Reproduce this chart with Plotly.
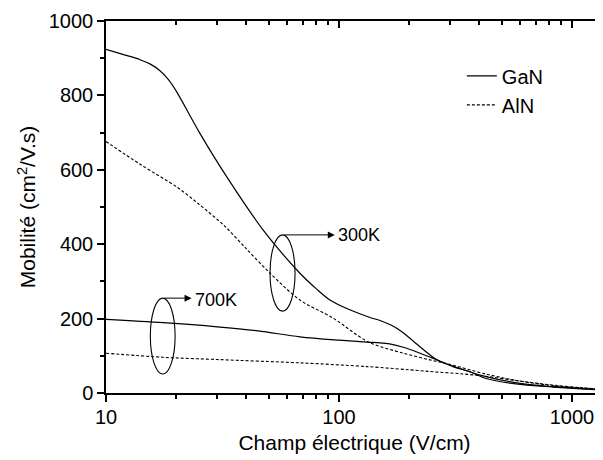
import math
import plotly.graph_objects as go

# ---- data ----
E_gan300 = [10, 12, 14, 15.5, 17, 18.5, 20, 25.3, 33, 47.3, 68, 80, 91.4, 110, 136, 150, 168, 185, 208, 262, 290, 330, 427, 600, 832, 1100, 1360]
mu_gan300 = [924, 909, 896, 884, 867, 843, 812, 698, 581, 438, 322, 280, 250, 225, 203, 195, 182, 166, 140, 90, 78, 66, 44, 26, 17, 12, 9]

E_aln300 = [10, 14, 20.2, 25, 32.4, 40, 50.6, 68, 94, 134, 189, 246, 299, 427, 598, 832, 1100, 1360]
mu_aln300 = [676, 615, 553, 508, 448, 388, 322, 250, 202, 137, 107, 89, 77, 51, 32, 20, 14, 10]

E_gan700 = [10, 17.6, 30, 45, 68, 100, 132, 150, 165, 189, 223, 254, 309, 365, 427, 600, 832, 1100, 1360]
mu_gan700 = [198, 189, 178, 167, 151, 142, 137, 135, 132, 123, 107, 93, 71, 57, 39, 23, 16, 11, 8]

E_aln700 = [10, 17.6, 30, 68, 132, 223, 254, 330, 427, 600, 832, 1100, 1360]
mu_aln700 = [107, 96, 90, 81, 71, 60, 57, 52, 45, 32, 21, 14, 10]

x_ticks = [10, 100, 1000]
x_minor = [20, 30, 40, 50, 60, 70, 80, 90, 200, 300, 400, 500, 600, 700, 800, 900]
x_range = [10, 1360]
y_range = [0, 1000]

# ellipse groups: (label, E_min, E_max, mu_min, mu_max, arrow_tip_E, text_E, text_mu)
groups = [
    ("700K", 15.5, 19.8, 51, 255, 23.3, 23.6, 250),
    ("300K", 50.6, 64.8, 220, 425, 96, 97, 425),
]

FONT = "Liberation Sans, Arial, sans-serif"
SMOOTH = 0.9

fig = go.Figure()
fig.add_trace(go.Scatter(x=E_gan300, y=mu_gan300, mode="lines", name="GaN",
                         line=dict(color="black", width=1.2, shape="spline", smoothing=SMOOTH),
                         legendgroup="GaN"))
fig.add_trace(go.Scatter(x=E_aln300, y=mu_aln300, mode="lines", name="AlN",
                         line=dict(color="black", width=1.1, dash="3px,2px", shape="spline", smoothing=SMOOTH),
                         legendgroup="AlN"))
fig.add_trace(go.Scatter(x=E_gan700, y=mu_gan700, mode="lines", name="GaN", showlegend=False,
                         line=dict(color="black", width=1.2, shape="spline", smoothing=SMOOTH),
                         legendgroup="GaN"))
fig.add_trace(go.Scatter(x=E_aln700, y=mu_aln700, mode="lines", name="AlN", showlegend=False,
                         line=dict(color="black", width=1.1, dash="3px,2px", shape="spline", smoothing=SMOOTH),
                         legendgroup="AlN"))
# helper trace for the top axis (mirrored inside ticks)
fig.add_trace(go.Scatter(x=[x_range[0]], y=[None], xaxis="x2", showlegend=False,
                         hoverinfo="skip", mode="lines"))

shapes = []
annotations = []
for label, e0, e1, m0, m1, tipE, txtE, txtMu in groups:
    shapes.append(dict(type="circle", xref="x", yref="y", x0=e0, x1=e1, y0=m0, y1=m1,
                       line=dict(color="black", width=1.1)))
    eC = math.sqrt(e0 * e1)
    annotations.append(dict(x=math.log10(tipE), y=m1, ax=math.log10(eC), ay=m1,
                            xref="x", yref="y", axref="x", ayref="y", text="",
                            showarrow=True, arrowhead=2, arrowsize=1.4, arrowwidth=1,
                            arrowcolor="black", standoff=0, startstandoff=0))
    annotations.append(dict(x=math.log10(txtE), y=txtMu, xref="x", yref="y", text=label,
                            showarrow=False, xanchor="left", yanchor="middle",
                            font=dict(family=FONT, size=18, color="black")))

axis_common = dict(showgrid=False, zeroline=False, showline=True, linecolor="black",
                   linewidth=1.5, tickcolor="black", tickwidth=1.5, automargin=False,
                   tickfont=dict(family=FONT, size=20, color="black"))

fig.update_layout(
    width=603, height=460,
    margin=dict(l=98, r=8, t=13, b=75),
    paper_bgcolor="white", plot_bgcolor="white",
    font=dict(family=FONT, color="black"),
    xaxis=dict(type="log", range=[math.log10(x_range[0]), math.log10(x_range[1])],
               tickmode="array", tickvals=x_ticks, ticktext=[str(v) for v in x_ticks],
               ticks="outside", ticklen=7, ticklabelstandoff=-2,
               minor=dict(tickmode="array", tickvals=x_minor, ticks="outside", ticklen=4,
                          tickwidth=1.5, tickcolor="black"),
               title=dict(text="Champ électrique (V/cm)", font=dict(family=FONT, size=21), standoff=9),
               **axis_common),
    xaxis2=dict(type="log", range=[math.log10(x_range[0]), math.log10(x_range[1])],
                overlaying="x", side="top", anchor="y",
                tickmode="array", tickvals=x_ticks, showticklabels=False,
                ticks="inside", ticklen=7,
                minor=dict(tickmode="array", tickvals=x_minor, ticks="inside", ticklen=4,
                           tickwidth=1.5, tickcolor="black"),
                **axis_common),
    yaxis=dict(range=y_range, tickmode="linear", tick0=0, dtick=200,
               ticks="outside", ticklen=7,
               minor=dict(dtick=100, ticks="outside", ticklen=4, tickwidth=1.5, tickcolor="black"),
               title=dict(text="Mobilité (cm<sup>2</sup>/V.s)", font=dict(family=FONT, size=21), standoff=7),
               **axis_common),
    legend=dict(x=0.716, y=0.905, xanchor="left", yanchor="top",
                bgcolor="rgba(0,0,0,0)", font=dict(family=FONT, size=20, color="black"),
                tracegroupgap=0),
    shapes=shapes,
    annotations=annotations,
    showlegend=True,
)

fig.write_html("out.html")
